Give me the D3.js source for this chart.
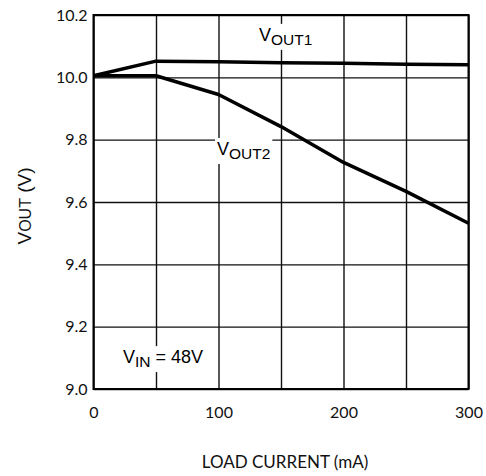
<!DOCTYPE html>
<html>
<head>
<meta charset="utf-8">
<script src="https://cdn.jsdelivr.net/npm/d3@7"></script>
<style>
  body { margin: 0; background: #fff; }
  svg { display: block; }
</style>
</head>
<body>
<svg></svg>
<script>
// chart size
var width = 486;
var height = 476;
var margin = {top: 15, right: 17.5, bottom: 87, left: 93.5};
var w = width - margin.left - margin.right;
var h = height - margin.top - margin.bottom;

// data
var loadCurrent = [0, 50, 100, 150, 200, 250, 300];
var vout1 = [10.005, 10.052, 10.05, 10.047, 10.045, 10.042, 10.04];
var vout2 = [10.005, 10.005, 9.945, 9.842, 9.727, 9.634, 9.532];
var xTicks = [0, 50, 100, 150, 200, 250, 300];
var xTickLabels = ["0", "", "100", "", "200", "", "300"];
var yTicks = [9.0, 9.2, 9.4, 9.6, 9.8, 10.0, 10.2];

var tickFont = "Lato, 'Open Sans', sans-serif";
var labelFont = "'Liberation Sans', Arial, sans-serif";

var x = d3.scaleLinear().domain([0, 300]).range([0, w]);
var y = d3.scaleLinear().domain([9.0, 10.2]).range([h, 0]);

var svg = d3.select("svg")
    .attr("width", width)
    .attr("height", height);

var g = svg.append("g")
    .attr("transform", "translate(" + margin.left + "," + margin.top + ")");

// vertical grid + x tick labels
var xAxis = g.append("g")
    .attr("transform", "translate(0," + h + ")")
    .call(d3.axisBottom(x)
        .tickValues(xTicks)
        .tickSize(-h)
        .tickPadding(18)
        .tickFormat(function(d, i) { return xTickLabels[i]; }));
xAxis.select(".domain").remove();
xAxis.selectAll("line").attr("stroke", "#111").attr("stroke-width", 1.4);
xAxis.selectAll("text")
    .attr("fill", "#111")
    .style("font-family", tickFont)
    .style("font-size", "16px");

// horizontal grid + y tick labels
var yAxis = g.append("g")
    .call(d3.axisLeft(y)
        .tickValues(yTicks)
        .tickSize(-w)
        .tickPadding(6)
        .tickFormat(d3.format(".1f")));
yAxis.select(".domain").remove();
yAxis.selectAll("line").attr("stroke", "#111").attr("stroke-width", 1.4);
yAxis.selectAll("text")
    .attr("fill", "#111")
    .style("font-family", tickFont)
    .style("font-size", "16px");

// frame
g.append("rect")
    .attr("width", w)
    .attr("height", h)
    .attr("fill", "none")
    .attr("stroke", "#000")
    .attr("stroke-width", 2);

// curves
var line = d3.line()
    .x(function(d) { return x(d[0]); })
    .y(function(d) { return y(d[1]); });

[vout1, vout2].forEach(function(series) {
    g.append("path")
        .datum(loadCurrent.map(function(c, i) { return [c, series[i]]; }))
        .attr("d", line)
        .attr("fill", "none")
        .attr("stroke", "#000")
        .attr("stroke-width", 3.5)
        .attr("stroke-linejoin", "round");
});

// curve labels with white boxes
function label(px, py, main, sub, rest, subShift) {
    var lg = g.append("g");
    var t = lg.append("text")
        .attr("x", x(px))
        .attr("y", y(py))
        .attr("fill", "#000")
        .style("font-family", labelFont)
        .style("font-size", "18px");
    t.append("tspan").text(main);
    t.append("tspan").attr("dy", subShift).style("font-size", "15.5px").text(sub);
    if (rest) {
        t.append("tspan").attr("dy", -subShift).text(rest);
    }
    var b = t.node().getBBox();
    lg.insert("rect", "text")
        .attr("x", b.x - 2)
        .attr("y", b.y - 1)
        .attr("width", b.width + 4)
        .attr("height", b.height + 3)
        .attr("fill", "#fff");
}

label(132.4, 10.117, "V", "OUT1", null, 4);
label(98.8, 9.751, "V", "OUT2", null, 4);
label(23.6, 9.083, "V", "IN", " = 48V", 4);

// axis titles
svg.append("text")
    .attr("x", 285)
    .attr("y", 468)
    .attr("text-anchor", "middle")
    .attr("fill", "#111")
    .style("font-family", tickFont)
    .style("font-size", "17px")
    .text("LOAD CURRENT (mA)");

var yt = svg.append("text")
    .attr("transform", "translate(31,206) rotate(-90)")
    .attr("text-anchor", "middle")
    .attr("fill", "#111")
    .style("font-family", labelFont)
    .style("font-size", "19px");
yt.append("tspan").text("V");
yt.append("tspan").style("font-size", "16px").text("OUT");
yt.append("tspan").text(" (V)");
</script>
</body>
</html>
